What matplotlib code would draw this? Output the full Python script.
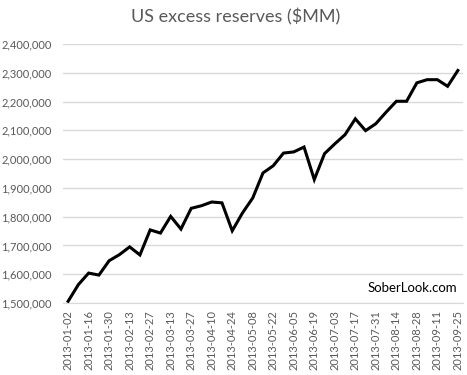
import matplotlib.pyplot as plt
import numpy as np
import pandas as pd

# weekly US excess reserves, $MM
dates = pd.date_range("2013-01-02", "2013-09-25", freq="7D").strftime("%Y-%m-%d").tolist()
reserves = [1506000, 1564000, 1604000, 1597000, 1647000, 1668000, 1695000, 1667000,
            1754000, 1743000, 1801000, 1757000, 1829000, 1838000, 1851000, 1848000,
            1751000, 1813000, 1865000, 1952000, 1977000, 2021000, 2025000, 2042000,
            1929000, 2019000, 2053000, 2085000, 2140000, 2099000, 2123000, 2163000,
            2201000, 2201000, 2265000, 2276000, 2276000, 2253000, 2308000]
yticks = np.arange(1500000, 2400001, 100000)

plt.rcParams['font.family'] = ['Lato', 'DejaVu Sans']
gray = '#595959'

fig = plt.figure(figsize=(4.67, 3.75), dpi=100)
ax = fig.add_axes([63/467, 1 - 303/375, 400/467, 259/375])

x = np.arange(len(dates))
ax.plot(x, reserves, color='black', lw=2.2, solid_joinstyle='miter', zorder=3)

ax.set_xlim(-0.5, len(dates) - 0.5)
ax.set_ylim(yticks[0], yticks[-1])
ax.set_yticks(yticks)
ax.set_yticklabels([f"{v:,}" for v in yticks])
ax.set_xticks(x[::2])
ax.set_xticklabels(dates[::2], rotation=90)

ax.grid(axis='y', color='#d9d9d9', lw=1)
ax.set_axisbelow(True)
for s in ['top', 'right', 'left']:
    ax.spines[s].set_visible(False)
ax.spines['bottom'].set_color('#d9d9d9')
ax.tick_params(length=0, colors=gray, labelsize=8)
ax.tick_params(axis='y', pad=8)
ax.tick_params(axis='x', pad=5)

fig.text(0.505, 0.955, "US excess reserves ($MM)", ha='center', va='center',
         fontsize=13, color=gray)
ax.text(0.985, 0.035, "SoberLook.com", transform=ax.transAxes, ha='right',
        va='bottom', fontsize=9.5, color='black')

fig.savefig('out.png', dpi=100)
